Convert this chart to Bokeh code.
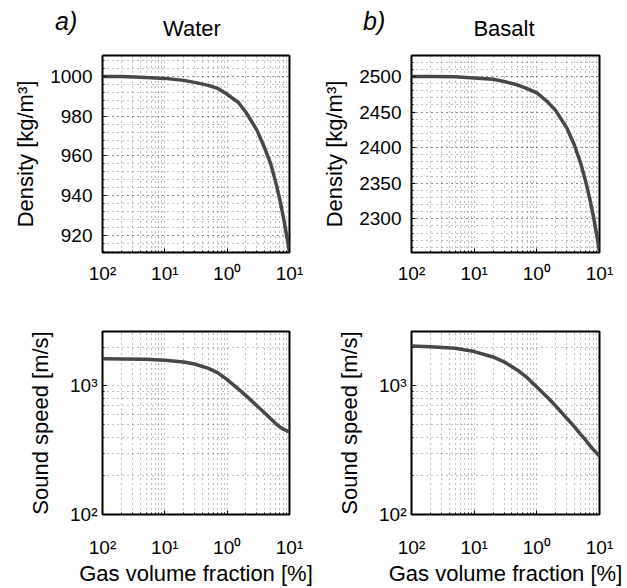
from bokeh.plotting import figure
from bokeh.models import Range1d, FixedTicker, SingleIntervalTicker, Div
from bokeh.layouts import column, row
from bokeh.embed import file_html
from bokeh.resources import INLINE

# ---------------- data ----------------
gas_pct = [0.01, 0.02, 0.05, 0.1, 0.2, 0.3, 0.5, 0.7, 1, 1.5, 2, 3, 4, 5, 6, 7, 8, 9, 10]
water_density = [1000, 1000, 999.5, 999, 998, 997, 995.5, 994, 991, 987, 982, 973, 964, 956,
                 947, 938, 929, 920, 911.5]
basalt_density = [2500, 2500, 2499.5, 2498, 2496, 2493, 2488, 2483, 2477, 2464, 2452, 2428,
                  2403, 2378, 2353, 2328, 2303, 2278, 2253]
water_speed = [1625, 1622, 1610, 1585, 1535, 1480, 1370, 1270, 1120, 950, 840, 700, 615, 555,
               510, 480, 460, 448, 440]
basalt_speed = [2040, 2020, 1960, 1850, 1680, 1540, 1320, 1160, 980, 810, 700, 560, 480, 420,
                380, 345, 320, 300, 284]

x_major = [0.01, 0.1, 1, 10]
x_minor = [0.02, 0.03, 0.04, 0.05, 0.06, 0.07, 0.08, 0.09,
           0.2, 0.3, 0.4, 0.5, 0.6, 0.7, 0.8, 0.9,
           2, 3, 4, 5, 6, 7, 8, 9]
x_tick_labels = ["10²", "10¹", "10⁰", "10¹"]

speed_major = [100, 1000]
speed_minor = [200, 300, 400, 500, 600, 700, 800, 900, 2000]
speed_tick_labels = ["10²", "10³"]

panel_letters = ["a)", "b)"]
materials = ["Water", "Basalt"]

FONT = "Liberation Sans"
CURVE = "#474747"
LEFT_W, RIGHT_W = 316, 307
HEAD_H = 40


def base_fig(width, height, bl, br, bt, bb, yrange, ylog):
    p = figure(width=width, height=height, x_axis_type="log",
               y_axis_type="log" if ylog else "linear",
               x_range=Range1d(0.01, 10), y_range=yrange,
               output_backend="svg", toolbar_location=None, tools="",
               min_border_left=bl, min_border_right=br,
               min_border_top=bt, min_border_bottom=bb)
    p.outline_line_color = "black"
    p.outline_line_width = 2
    p.outline_line_alpha = 1
    p.background_fill_color = "white"
    p.border_fill_color = "white"
    for ax in (p.xaxis[0], p.yaxis[0]):
        ax.axis_line_color = None
        ax.major_tick_in = 4
        ax.major_tick_out = 0
        ax.minor_tick_in = 2
        ax.minor_tick_out = 0
        ax.major_tick_line_color = "black"
        ax.minor_tick_line_color = "black"
        ax.major_label_text_font = FONT
        ax.major_label_text_font_size = "19px"
        ax.major_label_text_color = "black"
        ax.axis_label_text_font = FONT
        ax.axis_label_text_font_size = "22px"
        ax.axis_label_text_font_style = "normal"
        ax.axis_label_text_color = "black"
    p.xaxis.ticker = FixedTicker(ticks=x_major, minor_ticks=x_minor)
    p.xaxis.major_label_overrides = dict(zip(x_major, x_tick_labels))
    for g in (p.xgrid[0], p.ygrid[0]):
        g.grid_line_color = "black"
        g.grid_line_alpha = 0.5
        g.grid_line_dash = "1 4"
        g.grid_line_width = 1
        g.minor_grid_line_color = "black"
        g.minor_grid_line_alpha = 0.5
        g.minor_grid_line_dash = "1 4"
        g.minor_grid_line_width = 1
    return p


def heading(width, letter, letter_left, name, name_center):
    html = (
        f'<div style="position:relative;width:{width}px;height:{HEAD_H}px;'
        f'font-family:\'{FONT}\',Arial,sans-serif;color:black;margin:0;padding:0;">'
        f'<span style="position:absolute;left:{letter_left}px;top:9px;font-size:25px;'
        f'line-height:25px;font-style:italic;white-space:nowrap;">{letter}</span>'
        f'<span style="position:absolute;left:{name_center - 60}px;width:120px;text-align:center;'
        f'top:18px;font-size:22px;line-height:22px;white-space:nowrap;">{name}</span>'
        '</div>'
    )
    return Div(text=html, width=width, height=HEAD_H, margin=0)


# ---------------- top row: density ----------------
pa = base_fig(LEFT_W, 248, 102, 27, 15, 36, Range1d(911.5, 1010.5), False)
pa.yaxis.ticker = SingleIntervalTicker(interval=20, num_minor_ticks=5)
pa.yaxis.axis_label = "Density [kg/m³]"
pa.yaxis.major_label_standoff = 10
pa.yaxis.axis_label_standoff = 9
pa.xaxis.major_label_standoff = 10
pa.line(gas_pct, water_density, line_color=CURVE, line_width=3.5)

pb = base_fig(RIGHT_W, 248, 95, 24, 15, 36, Range1d(2252.6, 2529.5), False)
pb.yaxis.ticker = SingleIntervalTicker(interval=50, num_minor_ticks=5)
pb.yaxis.axis_label = "Density [kg/m³]"
pb.yaxis.major_label_standoff = 10
pb.yaxis.axis_label_standoff = 9
pb.xaxis.major_label_standoff = 10
pb.line(gas_pct, basalt_density, line_color=CURVE, line_width=3.5)

head_a = heading(LEFT_W, panel_letters[0], 55, materials[0], 192)
head_b = heading(RIGHT_W, panel_letters[1], 47, materials[1], 188)


# ---------------- bottom row: sound speed ----------------
def speed_fig(width, bl, br, values):
    p = base_fig(width, 300, bl, br, 43, 66, Range1d(100, 2650), True)
    p.yaxis.ticker = FixedTicker(ticks=speed_major, minor_ticks=speed_minor)
    p.yaxis.major_label_overrides = dict(zip(speed_major, speed_tick_labels))
    p.yaxis.major_label_standoff = 5
    p.yaxis.axis_label = "Sound speed [m/s]"
    p.yaxis.axis_label_standoff = 14
    p.xaxis.major_label_standoff = 22
    p.xaxis.axis_label = "Gas volume fraction [%]"
    p.xaxis.axis_label_standoff = 0
    p.line(gas_pct, values, line_color=CURVE, line_width=3.5)
    return p


pc = speed_fig(LEFT_W, 102, 27, water_speed)
pd_ = speed_fig(RIGHT_W, 95, 24, basalt_speed)

layout = column(row(head_a, head_b), row(pa, pb), row(pc, pd_))
open("out.html", "w").write(file_html(layout, INLINE))
